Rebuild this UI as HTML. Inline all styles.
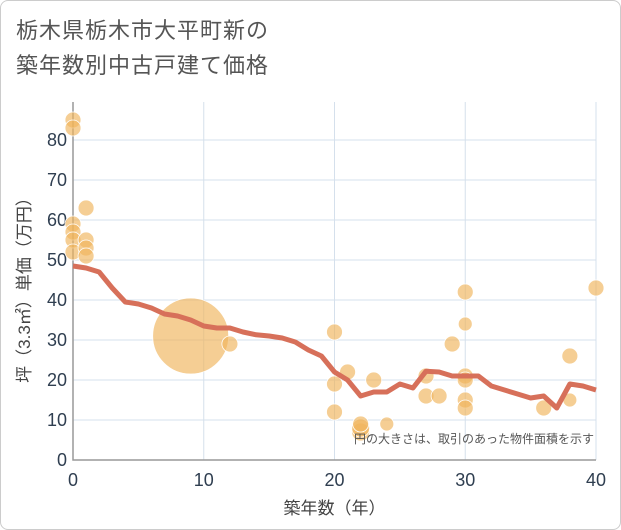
<!DOCTYPE html>
<html><head><meta charset="utf-8"><style>
body{margin:0;background:#fff;font-family:"Liberation Sans","Noto Sans CJK JP",sans-serif}
#wrap{position:relative;width:621px;height:530px}
#frame{position:absolute;left:0;top:0;width:619px;height:528px;border:1px solid #ccc;border-radius:8px}
#title{position:absolute;left:16px;top:13px;font-size:22px;line-height:35px;color:#555;letter-spacing:1px}
</style></head><body>
<div id="wrap">
<div id="frame"></div>
<div id="title">栃木県栃木市大平町新の<br>築年数別中古戸建て価格</div>
<svg id="chart" width="621" height="530" style="position:absolute;left:0;top:0"></svg>
</div>
<script>
const xTicks=[0,10,20,30,40];
const yTicks=[0,10,20,30,40,50,60,70,80];
const ptAge=[0,0,0,0,0,0,1,1,1,1,9,12,20,20,20,21,22,22,22,23,24,27,27,28,29,30,30,30,30,30,30,36,38,38,40];
const ptPrice=[85,83,59,57,55,52,63,55,53,51,31,29,32,19,12,22,7,8,9,20,9,21,16,16,29,42,34,21,20,15,13,13,26,15,43];
const ptSize=[8,8,8,8,8,8,8,8,8,8,38,8,8,8,8,8,9,9,8,8,7,8,8,8,8,8,7,8,8,8,8,8,8,7,8];
const lineAge=[0,1,2,3,4,5,6,7,8,9,10,11,12,13,14,15,16,17,18,19,20,21,22,23,24,25,26,27,28,29,30,31,32,33,34,35,36,37,38,39,40];
const linePrice=[48.5,48,47,43,39.5,39,38,36.5,36,35,33.5,33,33,32,31.3,31,30.5,29.5,27.5,26,22,20,16,17,17,19,18,22.2,22,21,21,21,18.5,17.5,16.5,15.5,16,13,19,18.5,17.5];
const L=73,R=596,T=102,B=460;
const xS=v=>L+(v-0)/40*(R-L);
const yS=v=>B-v/89.5*(B-T);
const svg=document.getElementById('chart');const NS='http://www.w3.org/2000/svg';
function mk(tag,attrs,parent){const e=document.createElementNS(NS,tag);for(const k in attrs)e.setAttribute(k,attrs[k]);(parent||svg).appendChild(e);return e;}
yTicks.forEach(v=>{const g=mk('line',{x1:L,x2:R,y1:yS(v),y2:yS(v),stroke:'#d5e0ec','stroke-width':1});


const t=mk('text',{x:L-6,y:yS(v)+6,'text-anchor':'end','font-size':18,fill:'#2f3e50'});t.textContent=v;

});
xTicks.forEach(v=>{const g=mk('line',{x1:xS(v),x2:xS(v),y1:T,y2:B,stroke:'#d5e0ec','stroke-width':1});


const t=mk('text',{x:xS(v),y:B+26,'text-anchor':'middle','font-size':18,fill:'#2f3e50'});t.textContent=v;

});
const ax=mk('path',{d:`M${L},${T}V${B}H${R}`,stroke:'#999',fill:'none','stroke-width':1.5});


ptAge.forEach((a,i)=>{const c=mk('circle',{cx:xS(a),cy:yS(ptPrice[i]),r:ptSize[i],fill:'rgba(240,180,90,0.65)',stroke:'#fff','stroke-width':0.8});

});
const p=mk('polyline',{points:lineAge.map((a,i)=>xS(a)+','+yS(linePrice[i])).join(' '),fill:'none',stroke:'#d7705a','stroke-width':5,'stroke-linejoin':'round'});


const note=mk('text',{x:594,y:443,'text-anchor':'end','font-size':12,fill:'#555'});note.textContent='円の大きさは、取引のあった物件面積を示す';


const xt=mk('text',{x:(L+R)/2,y:514,'text-anchor':'middle','font-size':17,fill:'#444'});xt.textContent='築年数（年）';


const yt=mk('text',{x:0,y:0,'text-anchor':'middle','font-size':17,fill:'#444',transform:`translate(30,${(T+B)/2+5}) rotate(-90)`});yt.textContent='坪（3.3㎡）単価（万円）';


</script>
</body></html>
